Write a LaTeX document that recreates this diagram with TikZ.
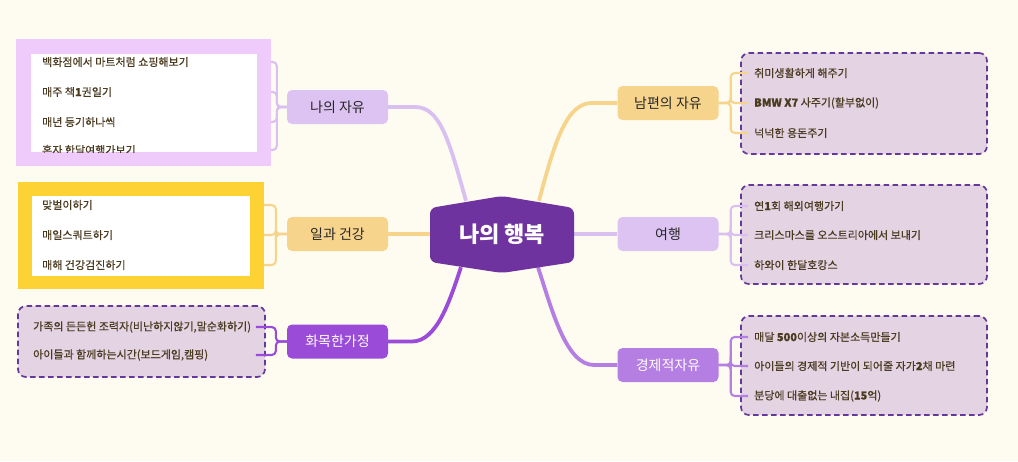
\documentclass[tikz,border=0pt]{standalone}
\usepackage{fontspec}
\setmainfont{Noto Sans CJK KR}
\newfontfamily\medfont[FakeBold=0.45]{Noto Sans CJK KR}
\usetikzlibrary{calc}
\definecolor{bgc}{HTML}{FEFCF0}
\definecolor{lpurp}{HTML}{DCC3F2}
\definecolor{lpurpline}{HTML}{D9C0F0}
\definecolor{yel}{HTML}{F6D48C}
\definecolor{mpurp}{HTML}{9A4CD8}
\definecolor{ppurp}{HTML}{B57EE3}
\definecolor{corec}{HTML}{6F339F}
\definecolor{boxfill}{HTML}{E3D3E3}
\definecolor{dashc}{HTML}{65389A}
\definecolor{pinkbox}{HTML}{EECBFA}
\definecolor{goldbox}{HTML}{FDD235}
\definecolor{leaftext}{HTML}{4A3A20}
\definecolor{toptext}{HTML}{262626}
\pgfdeclarelayer{bgl}
\pgfdeclarelayer{connl}
\pgfsetlayers{bgl,connl,main}
\tikzset{
  topic/.style={rounded corners=5pt, minimum width=101pt, minimum height=34pt, inner sep=0pt, font=\fontsize{14}{16}\selectfont, text=toptext},
  leaf/.style={anchor=west, inner sep=0pt, font=\medfont\fontsize{11}{13}\selectfont, text=leaftext},
  dashbox/.style={draw=dashc, fill=boxfill, dash pattern=on 5.5pt off 3.5pt, line width=1.7pt, rounded corners=8pt, inner sep=0pt},
  plainbox/.style={inner sep=0pt, draw=none},
  mainconn/.style={line width=3.8pt},
  brack/.style={line width=2.1pt, rounded corners=4pt}
}
\begin{document}
\begin{tikzpicture}[x=1pt,y=-1pt]
\begin{pgfonlayer}{bgl}
\fill[bgc] (0,0) rectangle (1018,461);
\end{pgfonlayer}
\useasboundingbox (0,0) rectangle (1018,461);

% boxes
\node[plainbox, fill=pinkbox, minimum width=255pt, minimum height=127pt] (zbox) at (143.5,102.5) {};
\node[plainbox, fill=white, minimum width=226pt, minimum height=98pt] (zin) at (144,103) {};
\node[plainbox, fill=goldbox, minimum width=246pt, minimum height=107pt] (ibox) at (141,235.5) {};
\node[plainbox, fill=white, minimum width=218pt, minimum height=80pt] (iin) at (141,236) {};
\node[dashbox, minimum width=247pt, minimum height=71pt] (hbox) at (141.5,341.5) {};
\node[dashbox, minimum width=246pt, minimum height=101pt] (nbox) at (864,103.5) {};
\node[dashbox, minimum width=246pt, minimum height=99pt] (tbox) at (864,234.5) {};
\node[dashbox, minimum width=246pt, minimum height=99pt] (ebox) at (864,365.5) {};

% leaves
\node[leaf] (z1) at (42,62) {백화점에서 마트처럼 쇼핑해보기};
\node[leaf] (z2) at (42,92) {매주 책\textbf{1}권일기};
\node[leaf] (z3) at (42,122) {매년 등기하나씩};
\begin{scope}
\clip (31,54) rectangle (257,152);
\node[leaf] (z4) at (42,150) {혼자 한달여행가보기};
\end{scope}
\node[leaf] (i1) at (42,205) {맞벌이하기};
\node[leaf] (i2) at (42,235) {매일스쿼트하기};
\node[leaf] (i3) at (42,265) {매해 건강검진하기};
\node[leaf] (h1) at (33,327) {가족의 든든헌 조력자(비난하지않기,말순화하기)};
\node[leaf] (h2) at (33,355) {아이들과 함께하는시간(보드게임,캠핑)};
\node[leaf] (n1) at (754,73) {취미생활하게 해주기};
\node[leaf] (n2) at (754,103) {\textbf{BMW X7} 사주기(할부없이)};
\node[leaf] (n3) at (754,133) {넉넉한 용돈주기};
\node[leaf] (t1) at (754,206) {연\textbf{1}회 해외여행가기};
\node[leaf] (t2) at (754,235) {크리스마스를 오스트리아에서 보내기};
\node[leaf] (t3) at (754,265) {하와이 한달호캉스};
\node[leaf] (e1) at (754,337) {매달 \textbf{500}이상의 자본소득만들기};
\node[leaf] (e2) at (754,366) {아이들의 경제적 기반이 되어줄 자가\textbf{2}채 마련};
\node[leaf] (e3) at (754,396) {분당에 대출없는 내집(\textbf{15}억)};

% topics
\node[topic, fill=lpurp] (zayu) at (337.5,107) {나의 자유};
\node[topic, fill=yel] (ilgw) at (337.5,234) {일과 건강};
\node[topic, fill=mpurp, text=white] (hwa) at (337.5,341.5) {화목한가정};
\node[topic, fill=yel] (nam) at (668,103) {남편의 자유};
\node[topic, fill=lpurp] (trip) at (668,234) {여행};
\node[topic, fill=ppurp, text=white] (eco) at (668,365) {경제적자유};

% center
\fill[corec, rounded corners=6pt] (430,208) -- (502,196) -- (574,208) -- (574,262) -- (502,273) -- (430,262) -- cycle;
\node[inner sep=0pt, minimum width=144pt, minimum height=66pt, text=white, font=\fontsize{22}{26}\selectfont\bfseries] (core) at (502,234) {나의 행복};

% main connectors
\begin{pgfonlayer}{connl}
\draw[mainconn, lpurpline] (zayu.east) -- (415,107) .. controls (440,107) and (449,140) .. ([xshift=-36pt]core.north);
\draw[mainconn, yel] (ilgw.east) -- (core.west);
\draw[mainconn, mpurp] (hwa.east) -- (412,341.5) .. controls (437,341.5) and (450,300) .. ([xshift=-41pt]core.south);
\draw[mainconn, yel] (nam.west) -- (592,103) .. controls (567,103) and (555,140) .. ([xshift=37pt]core.north);
\draw[mainconn, lpurpline] (trip.west) -- (core.east);
\draw[mainconn, ppurp] (eco.west) -- (594,365) .. controls (566,365) and (552,310) .. ([xshift=36pt]core.south);
\end{pgfonlayer}

% brackets
\coordinate (zh) at ([xshift=-10pt]zayu.west);
\foreach \l in {z1,z2,z3,z4} \draw[brack, lpurpline] (zayu.west) -- (zh) |- (zbox.east |- \l);
\coordinate (ih) at ([xshift=-11pt]ilgw.west);
\foreach \l in {i1,i2,i3} \draw[brack, yel] (ilgw.west) -- (ih) |- (ibox.east |- \l);
\coordinate (hh) at ([xshift=-11pt]hwa.west);
\coordinate (hx) at ([xshift=-10pt]hbox.east);
\foreach \l in {h1,h2} \draw[brack, mpurp] (hwa.west) -- (hh) |- (hx |- \l);
\coordinate (nh) at ([xshift=12pt]nam.east);
\coordinate (nx) at ([xshift=8pt]nbox.west);
\foreach \l in {n1,n2,n3} \draw[brack, yel] (nam.east) -- (nh) |- (nx |- \l);
\coordinate (th) at ([xshift=12pt]trip.east);
\coordinate (tx) at ([xshift=8pt]tbox.west);
\foreach \l in {t1,t2,t3} \draw[brack, lpurpline] (trip.east) -- (th) |- (tx |- \l);
\coordinate (eh) at ([xshift=12pt]eco.east);
\coordinate (ex) at ([xshift=8pt]ebox.west);
\foreach \l in {e1,e2,e3} \draw[brack, ppurp] (eco.east) -- (eh) |- (ex |- \l);
\end{tikzpicture}
\end{document}
